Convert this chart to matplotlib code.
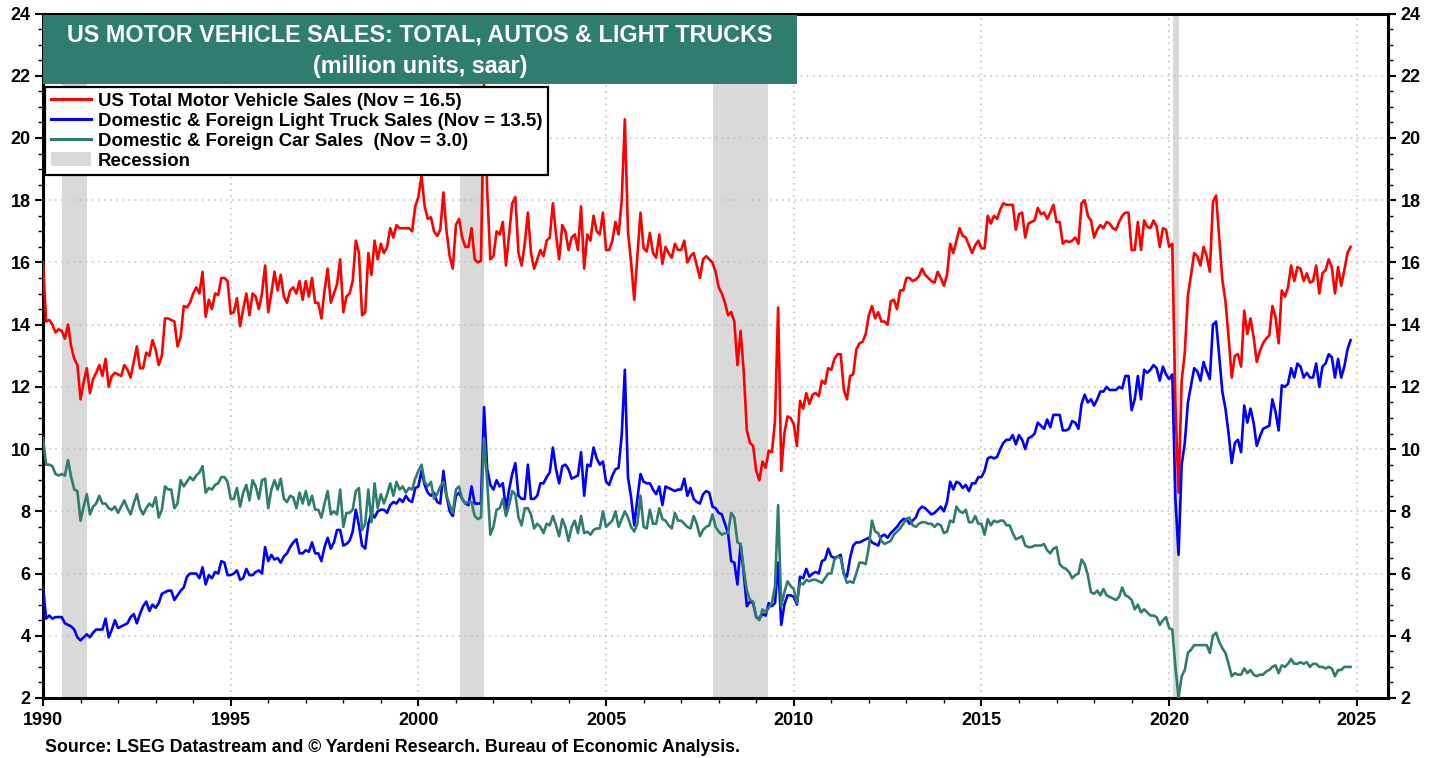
import matplotlib
matplotlib.use('Agg')
import matplotlib.pyplot as plt
from matplotlib.ticker import MultipleLocator
from matplotlib.patches import Rectangle, Patch
from matplotlib.lines import Line2D
import numpy as np

# monthly data, Jan 1990 - Nov 2024 (million units, saar)
total_sales = [
    16.0, 14.1, 14.15, 14.0, 13.75, 13.85, 13.8, 13.55, 14.0, 13.3, 12.9, 12.7,      # 1990
    11.6, 12.15, 12.6, 11.8, 12.25, 12.45, 12.7, 12.35, 12.9, 12.0, 12.35, 12.45,    # 1991
    12.4, 12.35, 12.7, 12.55, 12.3, 12.8, 13.3, 12.6, 12.6, 13.1, 13.0, 13.5,        # 1992
    13.2, 12.7, 13.0, 14.2, 14.2, 14.15, 14.1, 13.3, 13.6, 14.6, 14.55, 14.7,        # 1993
    15.0, 15.2, 15.0, 15.7, 14.25, 14.8, 14.5, 15.0, 14.95, 15.5, 15.5, 15.4,        # 1994
    14.35, 14.4, 14.85, 13.95, 14.5, 15.0, 14.3, 15.0, 14.9, 14.5, 15.0, 15.9,       # 1995
    14.4, 15.0, 15.7, 15.1, 15.6, 14.9, 14.7, 15.1, 15.2, 15.0, 15.4, 14.8,          # 1996
    15.4, 14.9, 15.5, 14.7, 14.7, 14.2, 15.1, 15.8, 14.7, 15.0, 15.3, 16.1,          # 1997
    14.4, 14.9, 15.0, 15.4, 16.7, 16.3, 14.3, 14.4, 16.3, 15.6, 16.7, 16.1,          # 1998
    16.6, 16.3, 16.5, 17.1, 16.8, 17.2, 17.1, 17.1, 17.1, 17.1, 17.0, 17.8,          # 1999
    18.1, 18.8, 17.8, 17.4, 17.45, 17.0, 16.85, 17.05, 18.25, 17.0, 16.2, 15.8,      # 2000
    17.2, 17.4, 16.8, 16.5, 16.5, 17.1, 16.1, 16.0, 16.05, 21.7, 18.3, 16.1,         # 2001
    16.2, 17.0, 16.9, 17.3, 15.9, 16.9, 17.9, 18.1, 16.3, 15.9, 16.6, 17.6,          # 2002
    16.3, 15.8, 16.1, 16.4, 16.2, 16.7, 16.8, 17.9, 16.9, 16.1, 17.2, 17.0,          # 2003
    16.4, 16.8, 16.9, 16.4, 17.8, 15.8, 16.9, 16.7, 17.5, 17.0, 16.9, 17.6,          # 2004
    16.4, 16.4, 16.7, 17.3, 16.9, 18.0, 20.6, 17.0, 16.0, 14.8, 16.2, 17.6,          # 2005
    16.45, 16.35, 16.95, 16.3, 16.15, 16.9, 15.95, 16.5, 16.3, 16.15, 16.6, 16.4,    # 2006
    16.4, 16.7, 16.0, 16.2, 16.3, 15.9, 15.5, 16.1, 16.2, 16.1, 16.0, 15.7,          # 2007
    15.2, 15.0, 14.7, 14.3, 14.4, 14.1, 12.7, 13.8, 12.5, 10.6, 10.2, 10.1,          # 2008
    9.3, 9.0, 9.6, 9.4, 9.95, 9.9, 10.9, 14.55, 9.3, 10.5, 11.05, 11.0,              # 2009
    10.8, 10.1, 11.55, 11.3, 11.8, 11.45, 11.75, 11.8, 11.7, 12.2, 12.1, 12.6,       # 2010
    12.55, 12.9, 13.05, 13.05, 11.9, 11.6, 12.35, 12.4, 13.2, 13.4, 13.45, 13.7,     # 2011
    14.3, 14.6, 14.2, 14.4, 14.1, 14.1, 14.0, 14.75, 14.8, 14.5, 15.1, 15.1,         # 2012
    15.5, 15.5, 15.4, 15.45, 15.55, 15.8, 15.6, 15.5, 15.4, 15.35, 15.7, 15.5,       # 2013
    15.25, 15.6, 16.6, 16.3, 16.7, 17.1, 16.85, 16.8, 16.55, 16.3, 16.55, 16.7,      # 2014
    16.45, 16.45, 17.5, 17.25, 17.5, 17.4, 17.7, 17.9, 17.85, 17.85, 17.85, 17.05,   # 2015
    17.55, 17.6, 16.8, 17.25, 17.3, 17.35, 17.75, 17.55, 17.6, 17.4, 17.6, 17.85,    # 2016
    17.3, 17.3, 16.6, 16.7, 16.65, 16.7, 16.8, 16.6, 17.9, 18.0, 17.5, 17.35,        # 2017
    16.8, 17.05, 17.2, 17.1, 17.3, 17.25, 17.1, 17.05, 17.3, 17.5, 17.6, 17.6,       # 2018
    16.4, 16.4, 17.3, 16.4, 17.35, 17.15, 17.1, 17.35, 17.15, 16.5, 17.1, 17.05,     # 2019
    16.5, 16.6, 11.4, 8.6, 12.2, 13.1, 14.95, 15.6, 16.3, 16.2, 15.9, 16.5,          # 2020
    16.2, 15.7, 17.95, 18.15, 16.8, 15.45, 14.75, 13.6, 12.3, 13.0, 13.05, 12.65,    # 2021
    14.45, 13.7, 14.2, 13.6, 12.8, 13.15, 13.4, 13.55, 13.65, 14.6, 14.25, 13.4,     # 2022
    15.1, 14.9, 15.2, 15.9, 15.4, 15.85, 15.8, 15.4, 15.65, 15.35, 15.4, 15.9,       # 2023
    15.0, 15.65, 15.75, 16.1, 15.85, 15.0, 15.85, 15.25, 15.75, 16.3, 16.5,          # 2024
]

truck_sales = [
    5.57, 4.55, 4.65, 4.55, 4.6, 4.6, 4.6, 4.4, 4.35, 4.3, 4.2, 3.95,                # 1990
    3.85, 3.95, 4.05, 3.95, 4.1, 4.2, 4.2, 4.2, 4.55, 3.95, 4.2, 4.5,                # 1991
    4.25, 4.3, 4.35, 4.4, 4.6, 4.7, 4.4, 4.7, 4.95, 5.1, 4.8, 5.0,                   # 1992
    4.9, 5.05, 5.35, 5.4, 5.45, 5.45, 5.15, 5.3, 5.45, 5.55, 5.9, 6.0,               # 1993
    6.0, 6.0, 5.85, 6.2, 5.65, 5.95, 5.85, 6.05, 6.0, 6.4, 6.35, 5.95,               # 1994
    5.95, 6.0, 6.1, 5.8, 5.85, 6.15, 5.95, 5.95, 6.05, 6.1, 6.0, 6.85,               # 1995
    6.4, 6.6, 6.45, 6.5, 6.35, 6.55, 6.65, 6.85, 7.0, 7.1, 6.65, 6.65,               # 1996
    6.75, 6.7, 7.0, 6.65, 6.65, 6.4, 6.85, 7.15, 6.8, 7.0, 7.4, 7.4,                 # 1997
    6.9, 6.95, 7.05, 7.35, 8.05, 7.55, 6.9, 6.8, 7.6, 7.95, 7.8, 8.0,                # 1998
    8.05, 8.05, 7.95, 8.2, 8.3, 8.25, 8.4, 8.3, 8.5, 8.35, 8.3, 8.75,                # 1999
    8.8, 9.3, 8.85, 8.6, 8.5, 8.6, 8.3, 8.25, 9.3, 8.5, 8.0, 7.85,                   # 2000
    8.5, 8.6, 8.4, 8.25, 8.2, 8.8, 8.25, 8.25, 8.25, 11.35, 9.35, 8.85,              # 2001
    8.7, 9.0, 8.8, 8.9, 8.05, 8.7, 9.2, 9.55, 8.5, 8.4, 8.4, 9.5,                    # 2002
    8.4, 8.4, 8.5, 8.9, 8.9, 9.1, 9.25, 10.05, 9.35, 8.9, 9.45, 9.5,                 # 2003
    9.35, 9.05, 9.1, 9.15, 9.9, 8.5, 9.5, 9.45, 10.05, 9.7, 9.5, 9.6,                # 2004
    8.95, 8.85, 9.15, 9.35, 9.4, 10.45, 12.55, 9.1, 8.45, 7.55, 8.4, 9.2,            # 2005
    8.95, 8.9, 8.9, 8.7, 8.55, 8.8, 8.2, 8.8, 8.75, 8.7, 8.65, 8.7,                  # 2006
    8.7, 9.05, 8.5, 8.75, 8.4, 8.3, 8.25, 8.55, 8.65, 8.6, 8.15, 8.1,                # 2007
    7.95, 7.9, 7.6, 7.3, 6.4, 6.35, 5.65, 6.95, 6.0, 4.95, 5.1, 5.05,                # 2008
    4.6, 4.55, 4.7, 4.65, 5.05, 4.95, 5.05, 6.35, 4.35, 5.0, 5.3, 5.3,               # 2009
    5.25, 5.0, 5.9, 5.85, 6.15, 5.9, 6.0, 6.05, 6.0, 6.4, 6.45, 6.8,                 # 2010
    6.55, 6.5, 6.55, 6.6, 6.0, 5.9, 6.5, 6.9, 7.0, 7.0, 7.05, 7.1,                   # 2011
    7.15, 7.0, 6.95, 6.9, 7.2, 7.25, 7.15, 7.3, 7.4, 7.5, 7.65, 7.75,                # 2012
    7.75, 7.6, 7.7, 7.8, 8.05, 8.15, 8.1, 8.0, 7.9, 7.95, 8.05, 8.15,                # 2013
    8.0, 8.3, 8.95, 8.7, 8.95, 8.9, 8.75, 8.85, 8.65, 8.9, 8.9, 9.1,                 # 2014
    9.1, 9.3, 9.7, 9.75, 9.7, 9.75, 10.0, 10.2, 10.3, 10.3, 10.45, 10.15,            # 2015
    10.45, 10.3, 10.0, 10.35, 10.4, 10.5, 10.85, 10.75, 10.65, 10.95, 10.7, 11.1,    # 2016
    11.1, 11.1, 10.6, 10.6, 10.65, 10.9, 10.85, 10.65, 11.45, 11.75, 11.5, 11.6,     # 2017
    11.4, 11.6, 11.85, 11.85, 12.0, 11.9, 11.9, 11.9, 12.0, 11.95, 12.35, 12.35,     # 2018
    11.25, 11.6, 12.35, 11.6, 12.55, 12.45, 12.55, 12.7, 12.6, 12.2, 12.65, 12.4,    # 2019
    12.25, 12.4, 8.4, 6.6, 9.5, 10.2, 11.5, 12.05, 12.6, 12.5, 12.2, 12.8,           # 2020
    12.5, 12.25, 14.0, 14.1, 13.0, 11.85, 11.3, 10.5, 9.55, 10.2, 10.3, 9.9,         # 2021
    11.4, 10.85, 11.3, 10.85, 10.1, 10.4, 10.65, 10.7, 10.75, 11.6, 11.2, 10.6,      # 2022
    12.05, 12.0, 12.1, 12.6, 12.3, 12.75, 12.65, 12.3, 12.45, 12.3, 12.3, 12.75,     # 2023
    12.0, 12.65, 12.75, 13.05, 12.95, 12.3, 12.9, 12.3, 12.65, 13.2, 13.5,           # 2024
]

car_sales = [
    10.35, 9.5, 9.5, 9.45, 9.2, 9.15, 9.2, 9.15, 9.65, 9.1, 8.7, 8.65,               # 1990
    7.7, 8.15, 8.55, 7.9, 8.15, 8.25, 8.5, 8.25, 8.25, 8.1, 8.05, 8.15,              # 1991
    7.95, 8.15, 8.35, 8.1, 7.9, 8.25, 8.55, 8.1, 7.9, 8.1, 8.25, 8.15,               # 1992
    8.45, 7.8, 8.05, 8.8, 8.7, 8.7, 8.1, 8.25, 9.0, 8.8, 8.95, 9.1,                  # 1993
    9.0, 9.15, 9.25, 9.45, 8.6, 8.75, 8.7, 8.85, 8.9, 9.1, 9.1, 8.95,                # 1994
    8.4, 8.4, 8.75, 8.15, 8.6, 8.85, 8.35, 9.0, 8.8, 8.4, 9.0, 9.05,                 # 1995
    8.1, 8.7, 9.0, 8.7, 9.05, 8.4, 8.3, 8.5, 8.45, 8.1, 8.6, 8.25,                   # 1996
    8.65, 8.2, 8.5, 8.05, 8.05, 7.8, 8.25, 8.65, 7.9, 8.0, 7.9, 8.7,                 # 1997
    7.5, 7.95, 7.95, 8.05, 8.65, 8.75, 7.4, 7.6, 8.7, 7.65, 8.9, 8.1,                # 1998
    8.55, 8.25, 8.55, 8.9, 8.5, 8.95, 8.7, 8.8, 8.6, 8.75, 8.7, 9.05,                # 1999
    9.3, 9.5, 8.95, 8.8, 8.95, 8.4, 8.55, 8.8, 8.95, 8.5, 8.2, 7.95,                 # 2000
    8.7, 8.8, 8.4, 8.25, 8.3, 8.3, 7.85, 7.75, 7.8, 10.35, 8.95, 7.25,               # 2001
    7.5, 8.05, 8.1, 8.4, 7.85, 8.2, 8.65, 8.55, 7.8, 7.55, 8.1, 8.1,                 # 2002
    7.9, 7.45, 7.6, 7.5, 7.3, 7.6, 7.55, 7.85, 7.55, 7.2, 7.75, 7.5,                 # 2003
    7.05, 7.5, 7.7, 7.3, 7.85, 7.3, 7.35, 7.25, 7.4, 7.45, 7.45, 8.0,                # 2004
    7.5, 7.6, 7.7, 8.0, 7.5, 7.75, 8.0, 7.8, 7.5, 7.35, 7.6, 8.5,                    # 2005
    7.5, 7.45, 8.05, 7.6, 7.6, 8.1, 7.75, 7.7, 7.55, 7.45, 7.95, 7.7,                # 2006
    7.7, 7.6, 7.5, 7.45, 7.85, 7.6, 7.2, 7.4, 7.5, 7.55, 7.9, 7.5,                   # 2007
    7.35, 7.25, 7.3, 7.3, 7.95, 7.8, 7.0, 6.95, 6.15, 5.45, 5.15, 5.1,               # 2008
    4.6, 4.5, 4.85, 4.75, 4.9, 5.05, 5.6, 8.2, 4.95, 5.4, 5.75, 5.6,                 # 2009
    5.5, 5.05, 5.7, 5.65, 5.8, 5.75, 5.8, 5.8, 5.75, 5.7, 5.85, 6.0,                 # 2010
    6.0, 6.45, 6.55, 6.5, 6.0, 5.7, 5.75, 5.7, 6.0, 6.35, 6.35, 6.3,                 # 2011
    6.85, 7.7, 7.35, 7.3, 7.05, 6.95, 7.0, 7.05, 7.25, 7.35, 7.45, 7.6,              # 2012
    7.75, 7.8, 7.55, 7.5, 7.6, 7.65, 7.65, 7.6, 7.6, 7.5, 7.6, 7.55,                 # 2013
    7.3, 7.35, 7.7, 7.65, 8.15, 8.0, 7.95, 8.05, 7.65, 7.65, 7.85, 7.6,              # 2014
    7.6, 7.25, 7.75, 7.55, 7.7, 7.65, 7.7, 7.7, 7.55, 7.55, 7.3, 7.1,                # 2015
    7.15, 7.2, 6.9, 6.85, 6.85, 6.9, 6.9, 6.9, 6.95, 6.75, 6.65, 6.8,                # 2016
    6.85, 6.3, 6.2, 6.15, 6.05, 5.85, 5.95, 6.0, 6.45, 6.3, 5.95, 5.4,               # 2017
    5.35, 5.45, 5.3, 5.5, 5.3, 5.25, 5.2, 5.15, 5.25, 5.55, 5.3, 5.25,               # 2018
    5.15, 4.85, 5.0, 4.75, 4.85, 4.75, 4.65, 4.65, 4.6, 4.35, 4.5, 4.6,              # 2019
    4.25, 4.2, 3.0, 2.0, 2.7, 2.9, 3.45, 3.55, 3.7, 3.7, 3.7, 3.7,                   # 2020
    3.7, 3.45, 4.0, 4.1, 3.8, 3.6, 3.45, 3.1, 2.7, 2.8, 2.75, 2.75,                  # 2021
    2.95, 2.8, 2.9, 2.75, 2.7, 2.75, 2.75, 2.85, 2.9, 3.0, 3.05, 2.8,                # 2022
    3.05, 3.0, 3.1, 3.25, 3.1, 3.1, 3.15, 3.1, 3.15, 3.0, 3.1, 3.1,                  # 2023
    3.0, 3.0, 2.95, 3.0, 2.95, 2.7, 2.9, 2.9, 3.0, 3.0, 3.0,                         # 2024
]

recessions = [(1990.5, 1991.17), (2001.12, 2001.76), (2007.84, 2009.32), (2020.1, 2020.25)]

labels = ['US Total Motor Vehicle Sales (Nov = 16.5)',
          'Domestic & Foreign Light Truck Sales (Nov = 13.5)',
          'Domestic & Foreign Car Sales  (Nov = 3.0)',
          'Recession']

RED = '#ff0000'
BLUE = '#0000ff'
TEAL = '#2e7d6e'
GREY = '#d9d9d9'

plt.rcParams['font.family'] = ['Liberation Sans', 'DejaVu Sans']
plt.rcParams['font.weight'] = 'bold'

W, H = 1441, 758
fig = plt.figure(figsize=(W / 100, H / 100), dpi=100)
ax = fig.add_axes([43 / W, 1 - 698 / H, (1388 - 43) / W, (698 - 13.5) / H])

for start, end in recessions:
    ax.axvspan(start, end, color=GREY, lw=0, zorder=0)

x_tot = 1990 + np.arange(len(total_sales)) / 12
x_trk = 1990 + np.arange(len(truck_sales)) / 12
x_car = 1990 + np.arange(len(car_sales)) / 12
ax.plot(x_tot, total_sales, color=RED, lw=1.9, zorder=3)
ax.plot(x_trk, truck_sales, color=BLUE, lw=1.9, zorder=3)
ax.plot(x_car, car_sales, color=TEAL, lw=1.9, zorder=3)

ax.set_xlim(1990, 2025.83)
ax.set_ylim(2, 24)
ax.set_xticks(range(1990, 2026, 5))
ax.xaxis.set_minor_locator(MultipleLocator(1))
ax.set_yticks(range(2, 25, 2))
ax.yaxis.set_minor_locator(MultipleLocator(0.5))
ax.tick_params(axis='both', which='major', direction='out', length=6, width=1.5, labelsize=13)
ax.tick_params(axis='both', which='minor', direction='out', length=3.5, width=1)
ax.tick_params(axis='y', which='both', right=True, labelright=True, pad=3)
ax.tick_params(axis='x', which='both', top=False, pad=4)
ax.grid(True, which='major', linestyle=(0, (1, 3)), color='#bdbdbd', linewidth=1.1)
for sp in ax.spines.values():
    sp.set_linewidth(2.2)

# title box
fig.add_artist(Rectangle((43 / W, 1 - 84 / H), (797 - 43) / W, (84 - 15) / H,
                         transform=fig.transFigure, facecolor=TEAL, edgecolor='none', zorder=3))
fig.text(420 / W, 1 - 35 / H, 'US MOTOR VEHICLE SALES: TOTAL, AUTOS & LIGHT TRUCKS',
         color='white', fontsize=16.8, weight='bold', ha='center', va='center', zorder=4)
fig.text(420 / W, 1 - 67 / H, '(million units, saar)',
         color='white', fontsize=16.8, weight='bold', ha='center', va='center', zorder=4)

handles = [Line2D([], [], color=RED, lw=2.2),
           Line2D([], [], color=BLUE, lw=2.2),
           Line2D([], [], color=TEAL, lw=2.2),
           Patch(facecolor=GREY, edgecolor='none')]
leg = ax.legend(handles, labels, loc='upper left', bbox_to_anchor=(45 / W, 1 - 87 / H),
                bbox_transform=fig.transFigure, fancybox=False, edgecolor='black',
                framealpha=1, prop={'weight': 'bold', 'size': 13.4}, handlelength=2.15,
                handleheight=0.8, borderpad=0.3, labelspacing=0.12, handletextpad=0.4,
                borderaxespad=0)
leg.get_frame().set_linewidth(1.6)
leg.set_zorder(5)

fig.text(45 / W, 1 - 747 / H,
         'Source: LSEG Datastream and \u00a9 Yardeni Research. Bureau of Economic Analysis.',
         fontsize=12.8, weight='bold', ha='left', va='center')

fig.savefig('out.png', dpi=100)
